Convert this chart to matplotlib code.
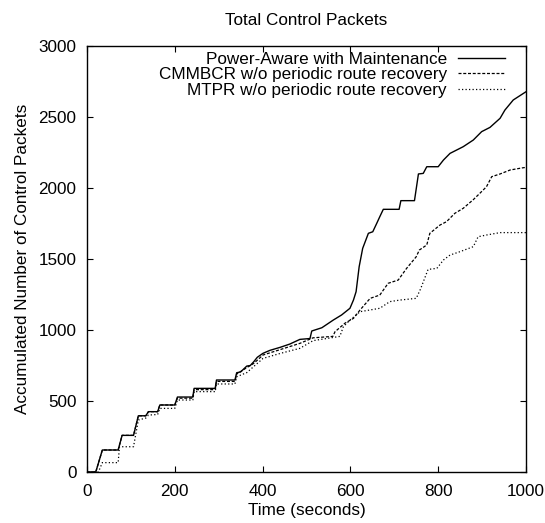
import matplotlib
matplotlib.use("Agg")
import matplotlib.pyplot as plt

plt.rcParams['font.family'] = ['Liberation Sans', 'DejaVu Sans']

title = "Total Control Packets"
xlabel = "Time (seconds)"
ylabel = "Accumulated Number of Control Packets"
labels = ["Power-Aware with Maintenance",
          "CMMBCR w/o periodic route recovery",
          "MTPR w/o periodic route recovery"]

pa_x = [0, 20, 35, 71, 80, 106, 117, 134, 140, 161, 166, 200, 206, 241, 244, 292, 295, 337, 341, 350,
        364, 372, 380, 388, 401, 417, 440, 462, 485, 508, 512, 535, 561, 580, 599, 607, 613, 620, 628,
        641, 651, 660, 667, 675, 711, 715, 746, 755, 766, 774, 800, 812, 827, 857, 880, 899, 918, 941,
        952, 971, 1000]
pa_y = [0, 0, 155, 155, 258, 258, 396, 396, 425, 425, 472, 472, 528, 528, 589, 589, 648, 648, 699, 705,
        746, 750, 777, 808, 836, 857, 878, 901, 934, 940, 993, 1016, 1070, 1106, 1153, 1211, 1270, 1446, 1575,
        1681, 1692, 1751, 1798, 1850, 1850, 1911, 1911, 2099, 2103, 2150, 2150, 2197, 2244, 2291, 2338, 2397, 2427, 2491,
        2549, 2620, 2678]

cm_x = [0, 20, 35, 71, 80, 106, 117, 134, 140, 161, 166, 200, 206, 241, 244, 292, 295, 337, 341, 364,
        380, 401, 440, 485, 515, 560, 565, 588, 607, 622, 645, 667, 686, 709, 728, 750, 757, 774, 781,
        804, 819, 838, 857, 880, 895, 910, 922, 941, 964, 994, 1000]
cm_y = [0, 0, 155, 155, 258, 258, 396, 396, 425, 425, 472, 472, 520, 520, 580, 580, 638, 638, 690, 735,
        765, 824, 862, 906, 945, 955, 988, 1049, 1082, 1141, 1223, 1246, 1329, 1352, 1434, 1516, 1563, 1599, 1681,
        1739, 1763, 1822, 1857, 1918, 1963, 2009, 2080, 2099, 2127, 2143, 2145]

mt_x = [0, 26, 35, 71, 74, 106, 117, 134, 140, 161, 166, 200, 206, 241, 244, 292, 295, 337, 341, 364,
        401, 440, 485, 515, 576, 584, 599, 622, 667, 690, 713, 750, 760, 777, 797, 812, 827, 850, 880,
        891, 910, 941, 1000]
mt_y = [0, 0, 66, 66, 178, 178, 366, 380, 401, 405, 448, 448, 507, 507, 566, 566, 620, 620, 671, 700,
        800, 835, 871, 925, 955, 1023, 1070, 1129, 1153, 1200, 1211, 1223, 1290, 1427, 1434, 1493, 1528, 1552, 1587,
        1657, 1669, 1686, 1686]

xticks = [0, 200, 400, 600, 800, 1000]
yticks = [0, 500, 1000, 1500, 2000, 2500, 3000]

FS = 12.3

fig = plt.figure(figsize=(5.45, 5.23), dpi=100)
ax = fig.add_axes([0.1596, 0.0975, 0.8055, 0.8145])

ax.plot(pa_x, pa_y, color='black', lw=1.0, linestyle='-', label=labels[0])
ax.plot(cm_x, cm_y, color='black', lw=0.9, linestyle=(0, (2.4, 1.4)), label=labels[1])
ax.plot(mt_x, mt_y, color='black', lw=0.9, linestyle=(0, (1, 1.8)), label=labels[2])

ax.set_xlim(0, 1000)
ax.set_ylim(0, 3000)
ax.set_xticks(xticks)
ax.set_yticks(yticks)
ax.tick_params(direction='in', length=4.5, width=0.8, top=True, right=True, labelsize=FS)
ax.tick_params(axis='x', pad=8.3)
ax.tick_params(axis='y', pad=7.5)
for s in ax.spines.values():
    s.set_linewidth(1.0)

ax.set_title(title, fontsize=FS, pad=15)
ax.set_xlabel(xlabel, fontsize=FS, labelpad=3)
ax.set_ylabel(ylabel, fontsize=FS, labelpad=6)

leg = ax.legend(loc='upper right', bbox_to_anchor=(0.952, 0.986), markerfirst=False, frameon=False,
                fontsize=FS, handlelength=2.75, handletextpad=0.64, labelspacing=0.02,
                borderaxespad=0.0, borderpad=0.0)

fig.savefig("out.png", dpi=100)
